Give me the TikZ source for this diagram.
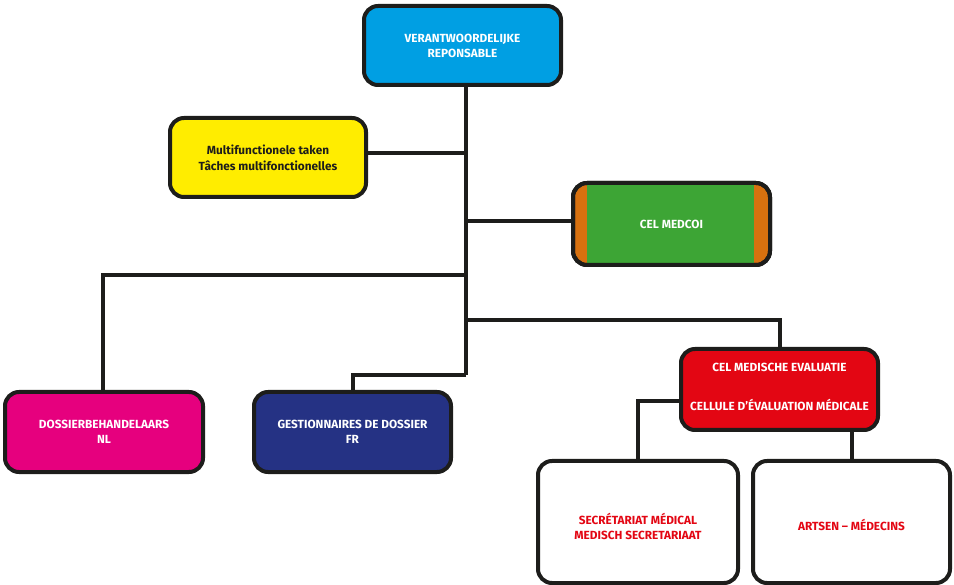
\documentclass[tikz,border=0pt]{standalone}
\usepackage{fontspec}
\setmainfont{Fira Sans}
\definecolor{lnc}{HTML}{1D1D1B}
\definecolor{cyanb}{HTML}{009FE3}
\definecolor{yelb}{HTML}{FFED00}
\definecolor{orab}{HTML}{D8710F}
\definecolor{greb}{HTML}{3DA535}
\definecolor{redb}{HTML}{E30613}
\definecolor{magb}{HTML}{E6007E}
\definecolor{navb}{HTML}{253284}
\begin{document}
\begin{tikzpicture}[x=1pt,y=-1pt,
  box/.style={draw=lnc,line width=4pt,rounded corners=14pt,align=center,font=\bfseries\fontsize{11.8}{15}\selectfont,text=white},
  conn/.style={draw=lnc,line width=4pt}]
\useasboundingbox (0,0) rectangle (954,585);
% connectors first
\coordinate (t0) at (466,85);
\coordinate (tb) at (466,375);
\draw[conn] (t0) -- (tb);
\draw[conn] (466,153) -- (366,153);
\draw[conn] (466,221) -- (573,221);
\draw[conn] (466,275) -- (103,275) -- (103,392);
\draw[conn] (tb) -- (353,375) -- (353,392);
\draw[conn] (466,320) -- (780,320) -- (780,349);
\draw[conn] (681,401) -- (638,401) -- (638,461);
\draw[conn] (852,430) -- (852,461);
% boxes
\path[box,fill=cyanb] (364,6) rectangle (561,85);
\node[box,draw=none,fill=none] (resp) at (462.5,45.5) {VERANTWOORDELIJKE\\REPONSABLE};
\path[box,fill=yelb] (170,118) rectangle (366,197);
\node[box,draw=none,fill=none,text=lnc,font=\bfseries\fontsize{11.8}{16}\selectfont] (multi) at (268,158) {Multifunctionele taken\\Tâches multifonctionelles};
\path[box,fill=orab] (573,183) rectangle (770,265);
\fill[greb] (587,185) rectangle (754,263);
\path[box,fill=none] (573,183) rectangle (770,265);
\node[box,draw=none,fill=none] (medcoi) at (671.5,224) {CEL MEDCOI};
\path[box,fill=redb] (681,349) rectangle (878,430);
\node[box,draw=none,fill=none] (cme) at (779.5,386.5) {CEL MEDISCHE EVALUATIE\\[24pt]CELLULE D’ÉVALUATION MÉDICALE};
\path[box,fill=magb] (5,392) rectangle (203,472);
\node[box,draw=none,fill=none] (nl) at (104,432) {DOSSIERBEHANDELAARS\\NL};
\path[box,fill=navb] (254,392) rectangle (451,472);
\node[box,draw=none,fill=none] (fr) at (352.5,432) {GESTIONNAIRES DE DOSSIER\\FR};
\path[box,fill=white] (538,461) rectangle (738,583);
\node[box,draw=none,fill=none,text=redb] (sec) at (638,526) {SECRÉTARIAT MÉDICAL\\MEDISCH SECRETARIAAT};
\path[box,fill=white] (753,461) rectangle (950,583);
\node[box,draw=none,fill=none,text=redb] (art) at (851.5,525) {ARTSEN – MÉDECINS};
\end{tikzpicture}
\end{document}
